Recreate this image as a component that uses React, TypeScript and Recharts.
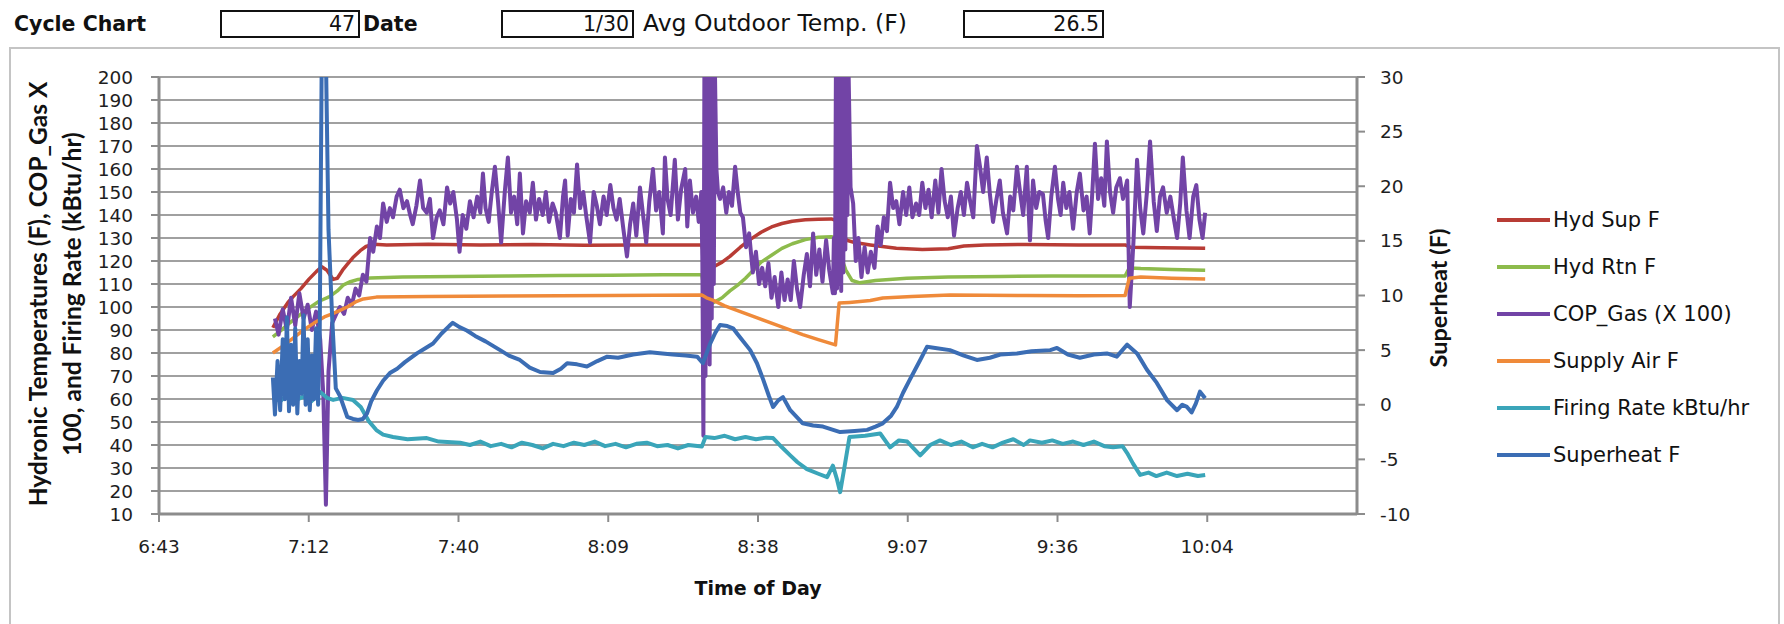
import { LineChart, Line, XAxis, YAxis, CartesianGrid } from 'recharts';

// header fields
const cycleNo = '47';
const cycleDate = '1/30';
const avgOutdoor = '26.5';

// x axis: minutes after midnight (Excel day fractions 0.28 .. 0.44)
const timeTicks = [403.2, 432, 460.8, 489.6, 518.4, 547.2, 576, 604.8];
const timeLabels = ['6:43', '7:12', '7:40', '8:09', '8:38', '9:07', '9:36', '10:04'];
const leftTicks = [10, 20, 30, 40, 50, 60, 70, 80, 90, 100, 110, 120, 130, 140, 150, 160, 170, 180, 190, 200];
const rightTicks = [-10, -5, 0, 5, 10, 15, 20, 25, 30];

// [minute of day, value]
const hydSup: [number, number][] = [
  [425.1, 91], [426.5, 97], [428, 102], [429, 104.5], [430.5, 108], [432, 112], [433.5, 115.5], [434.5, 117.5],
  [435.5, 116], [436.7, 112], [437.5, 112.5], [438.5, 116], [439.4, 118.5], [440.5, 121.5], [441.9, 124.5],
  [443, 126.3], [444.5, 127.3], [447, 127], [455, 127.3], [465, 127], [475, 127.2], [485, 126.8], [495, 127],
  [507.6, 127], [508.3, 119], [509.7, 117.3], [511.5, 119.5], [513, 122], [515, 126], [517, 129.5], [519, 132.5],
  [521, 134.8], [523, 136.3], [525, 137.3], [527.5, 137.9], [530, 138.2], [532.5, 138.3], [533.6, 137.5],
  [534.5, 132], [535.5, 129], [537, 128], [540, 127], [545, 125.5], [550, 125], [555, 125.3], [558, 126.5],
  [562, 127], [570, 127.2], [580, 127], [589, 127], [590, 126], [596, 125.8], [604.4, 125.5],
];

const hydRtn: [number, number][] = [
  [425.1, 87], [426.5, 89.5], [428, 92.5], [430, 96], [432, 99.5], [434, 102.5], [436, 104.5], [437.5, 107],
  [438.6, 109.5], [440, 111], [441.5, 112], [443.8, 112.6], [450, 113], [460, 113.3], [470, 113.5], [480, 113.7],
  [490, 113.8], [500, 114], [507.6, 114], [508.3, 104], [509.7, 101.7], [511.5, 104], [513, 107], [514.5, 109.5],
  [516, 112.5], [517.5, 116], [519, 119.5], [521, 122.5], [523, 125.5], [525, 127.5], [527.5, 129.3], [530, 130.3],
  [532.5, 130.5], [533.8, 130], [534.5, 121], [535.3, 116], [536.5, 111.5], [538, 110.5], [541, 111.5],
  [547, 112.5], [555, 113], [565, 113.3], [575, 113.5], [589, 113.5], [589.8, 117], [592, 116.7], [598, 116.3],
  [604.4, 116],
];

const copGas: [number, number][] = [
  [425.5, 95], [426.2, 88], [427.0, 99], [427.8, 90], [428.6, 104], [429.4, 92], [430.2, 106], [431.0, 95],
  [431.8, 101], [432.6, 90], [433.4, 98], [434.2, 86], [434.8, 62], [435.3, 14], [435.8, 72], [436.5, 93],
  [437.3, 97], [438.0, 100], [438.8, 97], [439.5, 104], [440.3, 101], [441.0, 108], [441.7, 105], [442.4, 114],
  [443.1, 111], [443.8, 130], [444.4, 124], [445.1, 135], [445.7, 130], [446.3, 145], [447.0, 137], [447.6, 143],
  [448.2, 139], [448.9, 148], [449.5, 151], [450.2, 143], [450.9, 146], [451.5, 140], [452.0, 136], [452.7, 144],
  [453.4, 155], [454.0, 143], [454.7, 141], [455.3, 147], [455.9, 130], [456.6, 139], [457.2, 142], [457.9, 136],
  [458.6, 152], [459.2, 145], [459.8, 150], [460.5, 138], [461.0, 124], [461.6, 140], [462.3, 134], [463.0, 146],
  [463.7, 139], [464.4, 148], [465.0, 141], [465.5, 158], [466.0, 143], [466.6, 137], [467.2, 150], [467.8, 161],
  [468.4, 146], [469.0, 128], [469.7, 150], [470.3, 165], [470.9, 141], [471.5, 148], [472.1, 136], [472.6, 158],
  [473.2, 132], [473.8, 146], [474.5, 141], [475.1, 154], [475.7, 138], [476.3, 147], [477.0, 140], [477.6, 150],
  [478.2, 137], [478.9, 145], [479.5, 141], [480.3, 130], [480.9, 148], [481.3, 155], [481.8, 131], [482.4, 147],
  [483.0, 141], [483.6, 162], [484.2, 143], [484.8, 150], [485.4, 139], [486.1, 128], [486.8, 150], [487.4, 144],
  [488.0, 136], [488.7, 148], [489.3, 140], [490.0, 153], [490.6, 143], [491.2, 138], [491.8, 147], [492.5, 134],
  [493.2, 122], [493.8, 136], [494.4, 145], [495.0, 131], [495.7, 152], [496.3, 140], [496.9, 128], [497.5, 146],
  [498.2, 160], [498.8, 142], [499.4, 150], [500.1, 132], [500.5, 165], [501.0, 147], [501.6, 140], [502.4, 164],
  [503.0, 138], [503.6, 151], [504.4, 160], [504.8, 135], [505.3, 155], [505.9, 141], [506.5, 148], [507.0, 137],
  [507.5, 150], [507.7, 120], [507.9, 44], [508.1, 212], [508.3, 70], [508.5, 215], [508.7, 85], [508.9, 210],
  [509.1, 75], [509.3, 212], [509.5, 95], [509.7, 210], [509.9, 110], [510.1, 205], [510.4, 160], [510.7, 150],
  [511.1, 147], [511.7, 152], [512.3, 141], [512.8, 150], [513.4, 144], [514.0, 161], [514.5, 150], [515.0, 141],
  [515.5, 139], [516.1, 126], [516.7, 132], [517.4, 115], [518.0, 124], [518.6, 110], [519.2, 117], [519.8, 109],
  [520.4, 119], [521.0, 104], [521.6, 113], [522.3, 100], [522.9, 115], [523.5, 103], [524.1, 112], [524.7, 103],
  [525.3, 120], [525.9, 108], [526.5, 100], [527.2, 114], [527.8, 123], [528.4, 109], [529.0, 132], [529.6, 114],
  [530.2, 125], [530.8, 111], [531.5, 129], [532.1, 116], [532.8, 106], [533.0, 130], [533.2, 106], [533.4, 212],
  [533.6, 108], [533.8, 215], [534.0, 110], [534.2, 212], [534.4, 107], [534.6, 210], [534.8, 115], [535.0, 212],
  [535.2, 125], [535.4, 208], [535.6, 140], [535.8, 205], [536.2, 152], [536.7, 145], [537.2, 120], [537.7, 130],
  [538.3, 113], [538.9, 126], [539.5, 115], [540.1, 124], [540.8, 117], [541.4, 135], [542.0, 127], [542.6, 139],
  [543.2, 133], [543.8, 154], [544.4, 143], [545.0, 146], [545.6, 136], [546.3, 150], [546.9, 140], [547.5, 152],
  [548.1, 139], [548.8, 145], [549.4, 140], [550.0, 154], [550.6, 143], [551.2, 151], [551.8, 139], [552.5, 155],
  [553.1, 141], [553.7, 160], [554.3, 146], [554.9, 139], [555.5, 148], [556.1, 131], [556.8, 143], [557.4, 150],
  [558.0, 140], [558.6, 154], [559.2, 146], [559.8, 139], [560.5, 170], [561.1, 161], [561.7, 150], [562.4, 165],
  [563.0, 149], [563.6, 137], [564.2, 146], [564.9, 155], [565.5, 141], [566.3, 132], [566.9, 148], [567.5, 142],
  [568.2, 161], [568.8, 150], [569.4, 140], [570.1, 161], [570.7, 129], [571.3, 155], [571.9, 143], [572.5, 150],
  [573.2, 149], [573.7, 138], [574.2, 130], [574.8, 148], [575.5, 161], [576.1, 147], [576.6, 140], [577.1, 154],
  [577.7, 143], [578.3, 150], [579.0, 134], [579.7, 150], [580.3, 158], [581.0, 142], [581.6, 148], [582.2, 132],
  [582.7, 150], [583.2, 171], [583.8, 147], [584.4, 156], [585.0, 144], [585.5, 172], [586.1, 150], [586.7, 141],
  [587.3, 152], [588.0, 156], [588.6, 147], [589.4, 155], [589.9, 100], [590.6, 128], [591.3, 164], [591.9, 143],
  [592.5, 132], [593.2, 150], [593.8, 172], [594.5, 146], [595.1, 133], [595.7, 148], [596.3, 152], [597.0, 141],
  [597.7, 148], [598.4, 138], [599.0, 130], [599.6, 145], [600.1, 165], [600.8, 142], [601.4, 130], [602.1, 148],
  [602.7, 153], [603.3, 138], [603.9, 130], [604.4, 141],
];

const supplyAir: [number, number][] = [
  [425.1, 80], [427, 83], [429, 86.5], [431, 90], [433, 93], [435, 95.7], [436.5, 97], [438, 98.5], [439.4, 100],
  [441, 102.2], [442.5, 103.5], [445, 104.3], [455, 104.6], [470, 104.8], [490, 105], [507.6, 105.2], [508.5, 104],
  [509.7, 103], [512, 100.5], [515, 98], [518, 95.5], [521, 93], [524, 90.5], [527, 88], [530, 85.8], [533.3, 83.5],
  [534, 101.7], [536, 102], [540, 102.8], [542.4, 103.9], [548, 104.6], [555.3, 105.2], [570, 105], [580, 104.9],
  [589, 105], [589.8, 112.5], [592, 113], [598, 112.5], [604.4, 112.2],
];

const firingRate: [number, number][] = [
  [425.1, 61], [426.5, 59], [428, 62], [429.5, 59.5], [431, 61], [432.5, 59], [434.2, 63], [435.5, 60.5],
  [436.7, 59.6], [438.5, 60.5], [440.5, 59.6], [442, 56.5], [443.5, 50.5], [445, 46.5], [446.3, 44.5], [448.2, 43.5],
  [451, 42.5], [454.7, 43], [457, 41.5], [461.1, 41], [463, 40], [465, 41.5], [467, 39.5], [469, 40.5], [471, 39],
  [473, 41], [475, 40], [477, 38.5], [479, 40.5], [481, 39.5], [483, 41], [485, 40], [487, 41.5], [489, 39.5],
  [491, 40.5], [493, 39], [495, 40.5], [497, 41], [499, 39.5], [501, 40], [503, 38.5], [505, 40], [507.6, 39.3],
  [508.3, 43.5], [510, 43], [512, 44], [514, 42.5], [516, 43.5], [518, 42.5], [520, 43.2], [521.3, 43], [523, 39],
  [524.6, 35.5], [526, 32.5], [527.8, 29.5], [530, 27.5], [531.7, 26], [532.8, 31], [533.6, 25], [534.2, 19.5],
  [535, 30], [536, 43.5], [539, 44], [541.9, 45], [543.8, 39], [545.5, 42], [547.1, 41.5], [549.6, 35.5], [551.5, 40],
  [553.4, 42], [555.5, 40], [557.5, 41.5], [559.7, 39], [561.5, 40.5], [563.5, 39], [565.5, 41], [567.5, 42.5],
  [569.5, 40], [570.7, 42], [573, 41], [575, 42], [577, 40.5], [579, 41.5], [581, 40], [583, 41.5], [585, 39.5],
  [586.7, 39], [588.5, 39.5], [589.4, 36.5], [590.5, 32], [591.9, 27], [593.5, 28], [595, 26.5], [597, 28],
  [599, 26.5], [601, 27.5], [603, 26.5], [604.4, 27],
];

// right axis
const superheat: [number, number][] = [
  [425.1, 2.5], [425.5, -0.9], [426, 4], [426.5, -0.5], [427, 6], [427.4, 0.5], [427.8, 8], [428.2, -0.6],
  [428.6, 5.5], [429, 0], [429.4, 7], [429.8, -0.8], [430.2, 4], [430.6, 1], [431, 8.2], [431.4, 0], [431.8, 6],
  [432.2, -0.5], [432.6, 4.5], [433, 0.5], [433.4, 7], [433.8, 0], [434.1, 6], [434.5, 32], [435.3, 32],
  [435.8, 16], [436.5, 8], [437.2, 1.5], [438, 0.8], [439.4, -1.1], [440.5, -1.3], [441.5, -1.4], [442.4, -1.3],
  [443.2, -0.8], [444, 0.3], [445.1, 1.3], [446.3, 2.2], [447.6, 2.9], [449, 3.3], [450.5, 3.9], [452.8, 4.7],
  [454.5, 5.2], [455.9, 5.6], [457.5, 6.5], [459, 7.2], [459.7, 7.5], [461, 7.1], [462.4, 6.8], [464, 6.3],
  [466, 5.8], [468.8, 5], [470.5, 4.5], [472.6, 4.1], [474.5, 3.4], [476.5, 3], [479, 2.9], [480.5, 3.3],
  [481.7, 3.8], [483.6, 3.7], [485.5, 3.5], [487.5, 4], [489.4, 4.4], [491.5, 4.3], [494.4, 4.6], [497.6, 4.8],
  [500, 4.7], [502, 4.6], [504.5, 4.5], [506.7, 4.4], [507.8, 3.8], [509.2, 5.6], [510.2, 6.6], [511.1, 7.3],
  [512.5, 7.2], [513.6, 7], [514.4, 6.5], [516.9, 5], [518.2, 3.8], [519.4, 2.3], [520.5, 0.8], [521.3, -0.2],
  [522.3, 0.4], [523.2, 0.7], [524.6, -0.5], [527, -1.7], [529, -1.9], [530.9, -2], [534.2, -2.5], [537, -2.4],
  [539.4, -2.3], [541, -2], [542.4, -1.7], [544, -1], [545.1, -0.2], [546.3, 1.1], [547.6, 2.3], [549.6, 4.1],
  [550.9, 5.3], [552.5, 5.2], [555.3, 5], [558, 4.5], [560.5, 4.1], [563, 4.3], [565, 4.6], [568.2, 4.7],
  [571, 4.9], [574.6, 5], [575.9, 5.2], [578, 4.6], [580.3, 4.3], [583, 4.6], [585.5, 4.7], [587.4, 4.4],
  [589.4, 5.5], [591.3, 4.7], [593.2, 3.2], [595.1, 2], [597.1, 0.4], [599, -0.5], [600, 0], [600.9, -0.2],
  [601.8, -0.7], [602.6, 0.1], [603.4, 1.2], [604.4, 0.6],
];

const series = [
  { name: 'Hyd Sup F', points: hydSup, color: '#b83c35', width: 3.5, axis: 0 },
  { name: 'Hyd Rtn F', points: hydRtn, color: '#8dbb4c', width: 3.5, axis: 0 },
  { name: 'COP_Gas (X 100)', points: copGas, color: '#7244a6', width: 4, axis: 0 },
  { name: 'Supply Air F', points: supplyAir, color: '#ef8a3a', width: 3.5, axis: 0 },
  { name: 'Firing Rate kBtu/hr', points: firingRate, color: '#3aa5b9', width: 4, axis: 0 },
  { name: 'Superheat F', points: superheat, color: '#3b6db4', width: 4, axis: 'right' },
];

// horizontal text reads wide in the original, the rotated titles narrower
const FONT = '"DejaVu Sans", "Open Sans", sans-serif';
const TITLE_FONT = 'Lato, "Open Sans", sans-serif';
const tickStyle = { fill: '#1e1e1e', fontSize: 18.5, fontFamily: FONT };
const axisLine = { stroke: '#8c8c8c', strokeWidth: 3 };
const tickLine = { stroke: '#8c8c8c', strokeWidth: 2 };

function ValueBox({ left, width, value }: { left: number; width: number; value: string }) {
  return (
    <div
      style={{
        position: 'absolute', left, top: 10, width, height: 28, boxSizing: 'border-box',
        border: '2px solid #111', textAlign: 'right', paddingRight: 3,
        fontSize: 20.5, lineHeight: '24px',
      }}
    >
      {value}
    </div>
  );
}

const headerText = { position: 'absolute' as const, top: 12, fontSize: 20.5, fontWeight: 700, lineHeight: '24px', whiteSpace: 'nowrap' as const };

export default function App() {
  return (
    <div style={{ position: 'absolute', left: 0, top: 0, width: 1784, height: 624, background: '#fff', fontFamily: FONT, color: '#111', overflow: 'hidden' }}>
      {/* header row */}
      <div style={{ ...headerText, left: 14 }}>Cycle Chart</div>
      <ValueBox left={220} width={140} value={cycleNo} />
      <div style={{ ...headerText, left: 363 }}>Date</div>
      <ValueBox left={501} width={133} value={cycleDate} />
      <div style={{ ...headerText, left: 643, top: 11, fontSize: 23.5, fontWeight: 400 }}>Avg Outdoor Temp. (F)</div>
      <ValueBox left={963} width={141} value={avgOutdoor} />

      {/* chart frame */}
      <div style={{ position: 'absolute', left: 9, top: 47, width: 1771, height: 640, border: '2px solid #c4c4c4', boxSizing: 'border-box' }} />

      <div style={{ position: 'absolute', left: 0, top: 0 }}>
        <LineChart width={1784} height={624} margin={{ top: 77, right: 327, left: 0, bottom: 50 }}>
          <CartesianGrid vertical={false} stroke="#a0a0a0" strokeWidth={2} />
          <XAxis
            type="number"
            dataKey="t"
            domain={[403.2, 633.6]}
            ticks={timeTicks}
            interval={0}
            allowDataOverflow
            height={60}
            tickSize={8}
            tickMargin={18}
            tick={tickStyle}
            axisLine={axisLine}
            tickLine={tickLine}
            tickFormatter={(_v: number, i: number) => timeLabels[i]}
          />
          <YAxis
            domain={[10, 200]}
            ticks={leftTicks}
            interval={0}
            allowDataOverflow
            width={159}
            tickSize={8}
            tickMargin={18}
            tick={tickStyle}
            axisLine={axisLine}
            tickLine={tickLine}
          />
          <YAxis
            yAxisId="right"
            orientation="right"
            domain={[-10, 30]}
            ticks={rightTicks}
            interval={0}
            allowDataOverflow
            width={100}
            tickSize={8}
            tickMargin={15}
            tick={{ ...tickStyle, textAnchor: 'start' }}
            axisLine={axisLine}
            tickLine={tickLine}
          />
          {series.map((s) => (
            <Line
              key={s.name}
              name={s.name}
              yAxisId={s.axis}
              data={s.points.map(([t, v]) => ({ t, v }))}
              dataKey="v"
              type="linear"
              stroke={s.color}
              strokeWidth={s.width}
              strokeLinejoin="round"
              dot={false}
              activeDot={false}
              isAnimationActive={false}
            />
          ))}
        </LineChart>
      </div>

      {/* axis titles */}
      <div
        style={{
          position: 'absolute', left: 55 - 250, top: 294 - 34, width: 500, height: 68,
          transform: 'rotate(-90deg)', textAlign: 'center', fontFamily: TITLE_FONT, fontSize: 24.5, fontWeight: 700,
          lineHeight: '34px', whiteSpace: 'nowrap',
        }}
      >
        Hydronic Temperatures (F), COP_Gas X<br />100, and Firing Rate (kBtu/hr)
      </div>
      <div
        style={{
          position: 'absolute', left: 1438 - 100, top: 298 - 15, width: 200, height: 30,
          transform: 'rotate(-90deg)', textAlign: 'center', fontFamily: TITLE_FONT, fontSize: 23.5, fontWeight: 700,
          lineHeight: '30px',
        }}
      >
        Superheat (F)
      </div>
      <div style={{ position: 'absolute', left: 658, top: 576, width: 200, textAlign: 'center', fontSize: 19, fontWeight: 700, lineHeight: '24px' }}>
        Time of Day
      </div>

      {/* legend */}
      <div style={{ position: 'absolute', left: 1497, top: 196 }}>
        {series.map((s) => (
          <div key={s.name} style={{ display: 'flex', alignItems: 'center', height: 47 }}>
            <div style={{ width: 53, height: 4, background: s.color, marginRight: 3 }} />
            <span style={{ fontSize: 21, whiteSpace: 'nowrap' }}>{s.name}</span>
          </div>
        ))}
      </div>
    </div>
  );
}
